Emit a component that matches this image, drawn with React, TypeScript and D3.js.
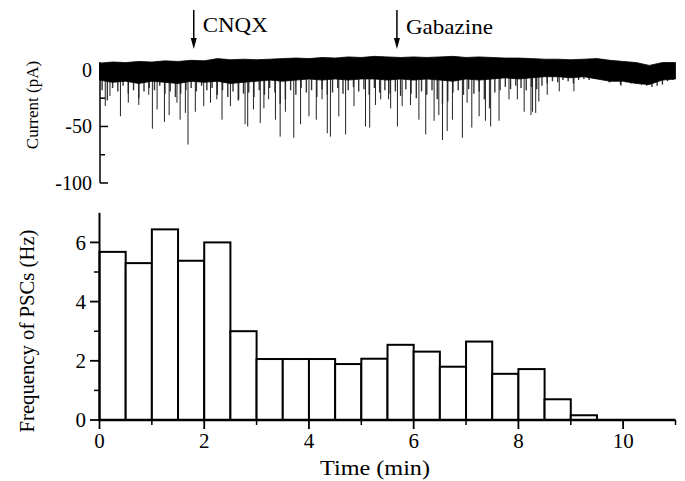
import React, { useEffect, useRef } from 'react';
import * as d3 from 'd3';

// histogram: PSC frequency per 0.5 min bin
const binStarts = [0, 0.5, 1, 1.5, 2, 2.5, 3, 3.5, 4, 4.5, 5, 5.5, 6, 6.5, 7, 7.5, 8, 8.5, 9];
const pscFrequency = [5.68, 5.3, 6.44, 5.38, 6.0, 3.0, 2.06, 2.06, 2.06, 1.89, 2.07, 2.54, 2.31, 1.8, 2.65, 1.56, 1.72, 0.7, 0.16];
const freqTicks = [0, 2, 4, 6];
const freqMinorTicks = [1, 3, 5];
const timeTicks = [0, 2, 4, 6, 8, 10];
const timeMinorTicks = [1, 3, 5, 7, 9, 11];

// current trace (pA)
const currentTicks = [0, -50, -100];
const currentMinorTicks = [-25, -75];
// band envelope every 0.25 min, t = 0 .. 11
const bandUpper = [6, 7, 6.5, 7.5, 7, 8, 7.5, 8.5, 8, 10, 9, 9.5, 9, 9.5, 10, 10.5, 10, 11, 10.5, 11.5, 11, 12, 11.5, 11,
    11.5, 11, 11.5, 12, 11, 11.5, 11, 10.5, 10.5, 10, 9.5, 9.5, 9, 9.5, 10, 8.5, 7.5, 6.5, 4, 6.5, 6.5];
const bandLower = [-9, -11, -10, -12, -10, -11, -12, -10, -11, -10, -12, -11, -10, -9, -10, -9, -8, -9, -8, -9, -8, -8,
    -9, -8, -9, -8, -9, -10, -8, -9, -8, -7, -8, -7, -6, -6, -7, -6, -8, -10, -10, -12, -13, -9, -8];
// small event fringe every 0.1 min, t = 0.05 .. 10.95
const fringeDepth = [-18, -27, -16, -19, -14, -21, -18, -25, -19, -16, -18, -14, -21, -19, -24, -21, -18, -16, -19, -14,
    -18, -16, -22, -18, -24, -19, -27, -21, -20, -24, -18, -22, -16, -20, -30, -26, -18, -22, -16, -20, -18, -24, -17,
    -22, -20, -16, -21, -18, -15, -19, -17, -22, -16, -20, -18, -21, -19, -23, -17, -21, -25, -19, -22, -18, -26, -30,
    -28, -20, -18, -22, -17, -21, -19, -26, -34, -20, -18, -15, -17, -14, -16, -18, -15, -17, -14, -12, -10, -11, -9,
    -10, -12, -9, -8, -9, -8, -7, -9, -11, -10, -13, -11, -12, -10, -13, -14, -15, -14, -13, -10, -9];
// large PSCs
const spikeTimes = [0.11, 0.2, 0.4, 0.55, 0.75, 0.94, 1.01, 1.1, 1.24, 1.33, 1.48, 1.54, 1.64, 1.69, 1.83, 1.99, 2.12,
    2.24, 2.34, 2.5, 2.66, 2.78, 2.83, 2.94, 3.07, 3.14, 3.23, 3.36, 3.45, 3.55, 3.71, 3.84, 4.0, 4.14, 4.25, 4.35, 4.41,
    4.57, 4.7, 4.86, 5.08, 5.16, 5.27, 5.37, 5.52, 5.56, 5.69, 5.78, 5.94, 6.1, 6.23, 6.39, 6.48, 6.55, 6.64, 6.74, 6.93,
    7.02, 7.11, 7.25, 7.37, 7.47, 7.63, 7.82, 7.98, 8.11, 8.24, 8.27, 8.33, 8.39, 8.55, 8.78, 9.06, 9.73, 9.96];
const spikeAmps = [-32, -23, -41, -29, -31, -22, -52, -35, -46, -40, -29, -44, -38, -66, -37, -32, -29, -26, -44, -32,
    -26, -48, -50, -35, -47, -34, -26, -44, -59, -37, -60, -48, -41, -44, -26, -56, -59, -41, -57, -32, -50, -51, -31, -26,
    -26, -34, -50, -32, -31, -44, -57, -45, -40, -62, -54, -44, -60, -29, -51, -41, -45, -50, -45, -26, -26, -37, -40,
    -37, -38, -28, -22, -19, -19, -11, -14];

const drugNames = ['CNQX', 'Gabazine'];
const drugTimes = [1.8, 5.68];

const FONT = "'Liberation Serif', 'Times New Roman', serif";

function App() {
    const node = useRef<SVGSVGElement>(null);

    useEffect(() => {
        const width = 685;
        const height = 481;
        const svg = d3.select(node.current);
        svg.selectAll('*').remove();
        svg.attr('width', width).attr('height', height);

        const xScale = d3.scaleLinear().domain([0, 11]).range([99.5, 675.5]);
        const yCur = d3.scaleLinear().domain([-100, 7]).range([183, 62]);
        const yFreq = d3.scaleLinear().domain([0, 7]).range([420, 212.8]);

        //* * top panel: current trace * *//
        const trace = svg.append('g').attr('id', 'trace');

        const bandPts = bandUpper.map((u, i) => ({ t: i * 0.25, u, l: bandLower[i] }));

        trace.selectAll('line.fringe')
            .data(fringeDepth)
            .enter()
            .append('line')
            .attr('class', 'fringe')
            .attr('x1', (d, i) => xScale(0.05 + i * 0.1))
            .attr('x2', (d, i) => xScale(0.05 + i * 0.1))
            .attr('y1', yCur(-3))
            .attr('y2', (d) => yCur(d))
            .attr('stroke', '#333')
            .attr('stroke-width', 1.4);

        trace.selectAll('line.spike')
            .data(spikeTimes)
            .enter()
            .append('line')
            .attr('class', 'spike')
            .attr('x1', (d) => xScale(d))
            .attr('x2', (d) => xScale(d))
            .attr('y1', yCur(-3))
            .attr('y2', (d, i) => yCur(spikeAmps[i]))
            .attr('stroke', '#222')
            .attr('stroke-width', 1);

        const band = d3.area<{ t: number; u: number; l: number }>()
            .x((d) => xScale(d.t))
            .y0((d) => yCur(d.l))
            .y1((d) => yCur(d.u));

        trace.append('path')
            .datum(bandPts)
            .attr('d', band)
            .attr('fill', '#000')
            .attr('stroke', '#000')
            .attr('stroke-width', 0.8);

        // current axis (ticks inward)
        const axisC = svg.append('g').attr('id', 'currentAxis');
        axisC.append('line')
            .attr('x1', 100).attr('x2', 100)
            .attr('y1', yCur(7)).attr('y2', yCur(-100))
            .attr('stroke', '#000').attr('stroke-width', 1.5);
        axisC.selectAll('line.major')
            .data(currentTicks)
            .enter()
            .append('line')
            .attr('x1', 100).attr('x2', 108)
            .attr('y1', (d) => yCur(d)).attr('y2', (d) => yCur(d))
            .attr('stroke', '#000').attr('stroke-width', 1.5);
        axisC.selectAll('line.minor')
            .data(currentMinorTicks)
            .enter()
            .append('line')
            .attr('x1', 100).attr('x2', 105)
            .attr('y1', (d) => yCur(d)).attr('y2', (d) => yCur(d))
            .attr('stroke', '#000').attr('stroke-width', 1.5);
        axisC.selectAll('text')
            .data(currentTicks)
            .enter()
            .append('text')
            .attr('x', 92)
            .attr('y', (d) => yCur(d))
            .attr('dy', '0.35em')
            .attr('text-anchor', 'end')
            .style('font-family', FONT)
            .style('font-size', '20px')
            .text((d) => d);
        svg.append('text')
            .attr('transform', 'translate(38,105) rotate(-90)')
            .attr('text-anchor', 'middle')
            .style('font-family', FONT)
            .style('font-size', '17px')
            .text('Current (pA)');

        // drug application arrows
        const drugs = svg.append('g').attr('id', 'drugs');
        drugNames.forEach((name, i) => {
            const x = xScale(drugTimes[i]);
            drugs.append('line')
                .attr('x1', x).attr('x2', x)
                .attr('y1', 10).attr('y2', 40)
                .attr('stroke', '#000').attr('stroke-width', 1.5);
            drugs.append('path')
                .attr('d', `M${x - 3},38 L${x + 3},38 L${x},49 Z`)
                .attr('fill', '#000');
            drugs.append('text')
                .attr('x', x + 9)
                .attr('y', i === 0 ? 32 : 34)
                .attr('textLength', i === 0 ? 65 : 87)
                .attr('lengthAdjust', 'spacingAndGlyphs')
                .style('font-family', FONT)
                .style('font-size', '22px')
                .text(name);
        });

        //* * bottom panel: PSC frequency histogram * *//
        const hist = svg.append('g').attr('id', 'histogram');
        hist.selectAll('rect')
            .data(pscFrequency)
            .enter()
            .append('rect')
            .attr('x', (d, i) => xScale(binStarts[i]))
            .attr('y', (d) => yFreq(d))
            .attr('width', xScale(0.5) - xScale(0))
            .attr('height', (d) => yFreq(0) - yFreq(d))
            .attr('fill', '#fff')
            .attr('stroke', '#000')
            .attr('stroke-width', 2);

        const axisF = svg.append('g').attr('id', 'freqAxis');
        axisF.append('line')
            .attr('x1', 99.5).attr('x2', 99.5)
            .attr('y1', yFreq(7)).attr('y2', yFreq(0))
            .attr('stroke', '#000').attr('stroke-width', 2);
        axisF.selectAll('line.major')
            .data(freqTicks)
            .enter()
            .append('line')
            .attr('x1', 90).attr('x2', 99.5)
            .attr('y1', (d) => yFreq(d)).attr('y2', (d) => yFreq(d))
            .attr('stroke', '#000').attr('stroke-width', 1.8);
        axisF.selectAll('line.minor')
            .data(freqMinorTicks)
            .enter()
            .append('line')
            .attr('x1', 94).attr('x2', 99.5)
            .attr('y1', (d) => yFreq(d)).attr('y2', (d) => yFreq(d))
            .attr('stroke', '#000').attr('stroke-width', 1.5);
        axisF.selectAll('text')
            .data(freqTicks)
            .enter()
            .append('text')
            .attr('x', 86)
            .attr('y', (d) => yFreq(d))
            .attr('dy', '0.35em')
            .attr('text-anchor', 'end')
            .style('font-family', FONT)
            .style('font-size', '21px')
            .text((d) => d);
        svg.append('text')
            .attr('transform', 'translate(34,331) rotate(-90)')
            .attr('text-anchor', 'middle')
            .attr('textLength', 203)
            .attr('lengthAdjust', 'spacingAndGlyphs')
            .style('font-family', FONT)
            .style('font-size', '21px')
            .text('Frequency of PSCs (Hz)');

        const axisT = svg.append('g').attr('id', 'timeAxis');
        axisT.append('line')
            .attr('x1', xScale(0) - 1).attr('x2', xScale(11))
            .attr('y1', 420).attr('y2', 420)
            .attr('stroke', '#000').attr('stroke-width', 2.5);
        axisT.selectAll('line.major')
            .data(timeTicks)
            .enter()
            .append('line')
            .attr('x1', (d) => xScale(d)).attr('x2', (d) => xScale(d))
            .attr('y1', 420).attr('y2', 429)
            .attr('stroke', '#000').attr('stroke-width', 1.8);
        axisT.selectAll('line.minor')
            .data(timeMinorTicks)
            .enter()
            .append('line')
            .attr('x1', (d) => xScale(d)).attr('x2', (d) => xScale(d))
            .attr('y1', 420).attr('y2', 425)
            .attr('stroke', '#000').attr('stroke-width', 1.5);
        axisT.selectAll('text')
            .data(timeTicks)
            .enter()
            .append('text')
            .attr('x', (d) => xScale(d))
            .attr('y', 448)
            .attr('text-anchor', 'middle')
            .style('font-family', FONT)
            .style('font-size', '21px')
            .text((d) => d);
        svg.append('text')
            .attr('x', 375)
            .attr('y', 475)
            .attr('text-anchor', 'middle')
            .attr('textLength', 110)
            .attr('lengthAdjust', 'spacingAndGlyphs')
            .style('font-family', FONT)
            .style('font-size', '21px')
            .text('Time (min)');
    }, []);

    return (
        <svg
            ref={node}
            style={{ position: 'absolute', left: 0, top: 0, display: 'block', background: '#fff' }}
        />
    );
}

export default App;
